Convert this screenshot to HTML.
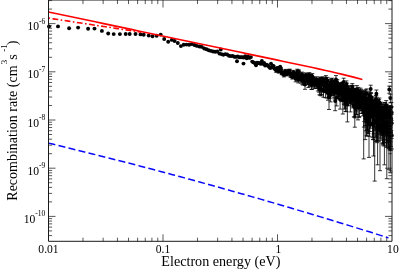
<!DOCTYPE html>
<html><head><meta charset="utf-8"><title>Recombination rate</title>
<style>html,body{margin:0;padding:0;background:#fff}body{width:399px;height:270px;overflow:hidden;font-family:"Liberation Serif",serif}</style></head>
<body>
<svg width="399" height="270" viewBox="0 0 399 270" style="display:block;will-change:transform;transform:translateZ(0)">
<rect width="399" height="270" fill="#fff"/>
<g stroke="#000" stroke-width="0.8" fill="none">
<path d="M276.2 69.1V72.3M274.2 69.1h4M274.2 72.3h4M278.7 69.6V73.1M276.7 69.6h4M276.7 73.1h4M279.4 66.9V69.9M277.4 66.9h4M277.4 69.9h4M281.0 67.7V71.0M279.0 67.7h4M279.0 71.0h4M281.7 71.0V74.7M279.7 71.0h4M279.7 74.7h4M282.4 70.9V74.6M280.4 70.9h4M280.4 74.6h4M283.2 71.4V75.1M281.2 71.4h4M281.2 75.1h4M283.9 72.9V76.9M281.9 72.9h4M281.9 76.9h4M284.6 72.0V75.8M282.6 72.0h4M282.6 75.8h4M285.3 69.4V72.8M283.3 69.4h4M283.3 72.8h4M285.9 71.2V74.9M283.9 71.2h4M283.9 74.9h4M286.6 71.4V75.2M284.6 71.4h4M284.6 75.2h4M287.3 71.9V75.9M285.3 71.9h4M285.3 75.9h4M287.9 70.8V74.6M285.9 70.8h4M285.9 74.6h4M288.6 69.4V72.9M286.6 69.4h4M286.6 72.9h4M289.2 70.0V73.7M287.2 70.0h4M287.2 73.7h4M289.8 69.2V72.8M287.8 69.2h4M287.8 72.8h4M290.4 72.7V77.0M288.4 72.7h4M288.4 77.0h4M291.1 72.9V77.3M289.1 72.9h4M289.1 77.3h4M291.7 72.9V77.4M289.7 72.9h4M289.7 77.4h4M292.3 74.3V79.0M290.3 74.3h4M290.3 79.0h4M292.8 73.9V78.6M290.8 73.9h4M290.8 78.6h4M293.4 70.4V74.4M291.4 70.4h4M291.4 74.4h4M294.0 72.9V77.4M292.0 72.9h4M292.0 77.4h4M294.6 72.1V76.5M292.6 72.1h4M292.6 76.5h4M295.1 72.5V77.1M293.1 72.5h4M293.1 77.1h4M295.7 76.3V81.8M293.7 76.3h4M293.7 81.8h4M296.2 72.9V77.5M294.2 72.9h4M294.2 77.5h4M296.8 72.0V76.5M294.8 72.0h4M294.8 76.5h4M297.3 69.2V73.1M295.3 69.2h4M295.3 73.1h4M297.8 75.5V81.0M295.8 75.5h4M295.8 81.0h4M298.3 76.9V82.9M296.3 76.9h4M296.3 82.9h4M298.9 69.9V74.0M296.9 69.9h4M296.9 74.0h4M299.4 74.5V79.9M297.4 74.5h4M297.4 79.9h4M299.9 74.9V80.5M297.9 74.9h4M297.9 80.5h4M300.4 73.1V78.2M298.4 73.1h4M298.4 78.2h4M300.9 77.0V83.2M298.9 77.0h4M298.9 83.2h4M301.4 75.1V80.7M299.4 75.1h4M299.4 80.7h4M301.9 72.1V76.9M299.9 72.1h4M299.9 76.9h4M302.4 78.0V84.7M300.4 78.0h4M300.4 84.7h4M302.8 73.1V78.3M300.8 73.1h4M300.8 78.3h4M303.3 78.3V85.1M301.3 78.3h4M301.3 85.1h4M303.8 77.3V83.7M301.8 77.3h4M301.8 83.7h4M304.3 75.3V81.1M302.3 75.3h4M302.3 81.1h4M304.7 74.5V80.0M302.7 74.5h4M302.7 80.0h4M305.2 78.1V85.0M303.2 78.1h4M303.2 85.0h4M305.7 72.9V78.1M303.7 72.9h4M303.7 78.1h4M306.1 76.2V82.4M304.1 76.2h4M304.1 82.4h4M306.6 74.6V80.2M304.6 74.6h4M304.6 80.2h4M307.0 75.1V81.0M305.0 75.1h4M305.0 81.0h4M307.5 77.4V84.0M305.5 77.4h4M305.5 84.0h4M307.9 73.5V78.9M305.9 73.5h4M305.9 78.9h4M308.4 79.8V87.5M306.4 79.8h4M306.4 87.5h4M308.8 75.6V81.7M306.8 75.6h4M306.8 81.7h4M309.3 72.6V77.8M307.3 72.6h4M307.3 77.8h4M309.7 78.9V86.3M307.7 78.9h4M307.7 86.3h4M310.1 74.3V80.0M308.1 74.3h4M308.1 80.0h4M310.6 78.5V85.7M308.6 78.5h4M308.6 85.7h4M311.0 74.5V80.3M309.0 74.5h4M309.0 80.3h4M311.4 80.9V89.3M309.4 80.9h4M309.4 89.3h4M311.9 81.1V89.5M309.9 81.1h4M309.9 89.5h4M312.3 73.6V79.1M310.3 73.6h4M310.3 79.1h4M312.7 76.7V83.2M310.7 76.7h4M310.7 83.2h4M313.1 77.5V84.3M311.1 77.5h4M311.1 84.3h4M313.5 77.1V83.7M311.5 77.1h4M311.5 83.7h4M313.9 79.3V86.9M311.9 79.3h4M311.9 86.9h4M314.3 79.4V87.1M312.3 79.4h4M312.3 87.1h4M314.7 80.4V88.5M312.7 80.4h4M312.7 88.5h4M315.1 77.9V84.9M313.1 77.9h4M313.1 84.9h4M315.6 78.0V85.0M313.6 78.0h4M313.6 85.0h4M315.9 78.5V85.7M313.9 78.5h4M313.9 85.7h4M316.3 80.3V88.4M314.3 80.3h4M314.3 88.4h4M316.7 76.8V83.4M314.7 76.8h4M314.7 83.4h4M317.1 78.6V85.8M315.1 78.6h4M315.1 85.8h4M317.5 78.8V86.2M315.5 78.8h4M315.5 86.2h4M317.9 82.1V91.0M315.9 82.1h4M315.9 91.0h4M318.3 78.8V86.1M316.3 78.8h4M316.3 86.1h4M318.7 80.4V88.5M316.7 80.4h4M316.7 88.5h4M319.1 82.9V92.2M317.1 82.9h4M317.1 92.2h4M319.4 84.5V94.8M317.4 84.5h4M317.4 94.8h4M319.8 77.1V83.7M317.8 77.1h4M317.8 83.7h4M320.2 84.8V95.3M318.2 84.8h4M318.2 95.3h4M320.6 78.0V85.0M318.6 78.0h4M318.6 85.0h4M320.9 77.4V84.1M318.9 77.4h4M318.9 84.1h4M321.3 85.3V95.9M319.3 85.3h4M319.3 95.9h4M321.7 84.4V94.5M319.7 84.4h4M319.7 94.5h4M322.0 78.0V84.9M320.0 78.0h4M320.0 84.9h4M322.4 77.5V84.2M320.4 77.5h4M320.4 84.2h4M322.8 76.8V83.2M320.8 76.8h4M320.8 83.2h4M323.1 79.3V86.6M321.1 79.3h4M321.1 86.6h4M323.5 86.2V97.3M321.5 86.2h4M321.5 97.3h4M323.8 80.7V88.6M321.8 80.7h4M321.8 88.6h4M324.2 81.4V89.7M322.2 81.4h4M322.2 89.7h4M324.5 79.0V86.2M322.5 79.0h4M322.5 86.2h4M324.9 82.5V91.2M322.9 82.5h4M322.9 91.2h4M325.2 81.6V89.8M323.2 81.6h4M323.2 89.8h4M325.6 86.6V97.8M323.6 86.6h4M323.6 97.8h4M325.9 75.6V81.5M323.9 75.6h4M323.9 81.5h4M326.3 81.4V89.4M324.3 81.4h4M324.3 89.4h4M326.6 79.8V87.2M324.6 79.8h4M324.6 87.2h4M327.0 81.0V88.9M325.0 81.0h4M325.0 88.9h4M327.3 86.9V98.0M325.3 86.9h4M325.3 98.0h4M327.6 77.4V83.8M325.6 77.4h4M325.6 83.8h4M328.0 88.2V100.2M326.0 88.2h4M326.0 100.2h4M328.3 81.2V89.0M326.3 81.2h4M326.3 89.0h4M328.6 84.6V94.1M326.6 84.6h4M326.6 94.1h4M329.0 86.5V97.2M327.0 86.5h4M327.0 97.2h4M329.3 81.6V89.5M327.3 81.6h4M327.3 89.5h4M329.6 85.3V95.2M327.6 85.3h4M327.6 95.2h4M329.9 87.2V98.2M327.9 87.2h4M327.9 98.2h4M330.3 82.0V90.2M328.3 82.0h4M328.3 90.2h4M330.6 89.3V101.9M328.6 89.3h4M328.6 101.9h4M330.9 79.6V86.6M328.9 79.6h4M328.9 86.6h4M331.2 78.7V85.4M329.2 78.7h4M329.2 85.4h4M331.5 84.0V93.1M329.5 84.0h4M329.5 93.1h4M331.9 85.8V95.9M329.9 85.8h4M329.9 95.9h4M332.2 78.2V84.6M330.2 78.2h4M330.2 84.6h4M332.5 84.8V94.1M330.5 84.8h4M330.5 94.1h4M332.8 80.9V88.4M330.8 80.9h4M330.8 88.4h4M333.1 84.6V93.9M331.1 84.6h4M331.1 93.9h4M333.4 85.6V95.5M331.4 85.6h4M331.4 95.5h4M333.7 83.4V92.0M331.7 83.4h4M331.7 92.0h4M334.0 87.1V97.8M332.0 87.1h4M332.0 97.8h4M334.3 81.6V89.3M332.3 81.6h4M332.3 89.3h4M334.7 87.7V98.9M332.7 87.7h4M332.7 98.9h4M335.0 80.8V88.2M333.0 80.8h4M333.0 88.2h4M335.3 79.5V86.3M333.3 79.5h4M333.3 86.3h4M335.6 80.3V87.3M333.6 80.3h4M333.6 87.3h4M335.9 82.8V91.0M333.9 82.8h4M333.9 91.0h4M336.1 83.9V92.6M334.1 83.9h4M334.1 92.6h4M336.4 85.2V94.7M334.4 85.2h4M334.4 94.7h4M336.7 91.7V105.9M334.7 91.7h4M334.7 105.9h4M337.0 81.0V88.4M335.0 81.0h4M335.0 88.4h4M337.3 79.6V86.4M335.3 79.6h4M335.3 86.4h4M337.6 86.4V96.4M335.6 86.4h4M335.6 96.4h4M337.9 87.6V98.5M335.9 87.6h4M335.9 98.5h4M338.2 87.5V98.2M336.2 87.5h4M336.2 98.2h4M338.5 85.4V94.9M336.5 85.4h4M336.5 94.9h4M338.8 85.7V95.2M336.8 85.7h4M336.8 95.2h4M339.1 88.0V98.9M337.1 88.0h4M337.1 98.9h4M339.3 86.6V96.6M337.3 86.6h4M337.3 96.6h4M339.6 84.5V93.4M337.6 84.5h4M337.6 93.4h4M339.9 82.7V90.7M337.9 82.7h4M337.9 90.7h4M340.2 86.8V96.9M338.2 86.8h4M338.2 96.9h4M340.5 83.5V91.9M338.5 83.5h4M338.5 91.9h4M340.7 83.5V91.7M338.7 83.5h4M338.7 91.7h4M341.0 84.0V92.5M339.0 84.0h4M339.0 92.5h4M341.3 87.6V98.1M339.3 87.6h4M339.3 98.1h4M341.6 82.4V90.1M339.6 82.4h4M339.6 90.1h4M341.8 89.7V101.7M339.8 89.7h4M339.8 101.7h4M342.1 88.5V99.5M340.1 88.5h4M340.1 99.5h4M342.4 83.1V91.0M340.4 83.1h4M340.4 91.0h4M342.7 87.9V98.4M340.7 87.9h4M340.7 98.4h4M342.9 86.9V96.7M340.9 86.9h4M340.9 96.7h4M343.2 81.8V89.0M341.2 81.8h4M341.2 89.0h4M343.5 87.0V97.0M341.5 87.0h4M341.5 97.0h4M343.7 91.2V104.0M341.7 91.2h4M341.7 104.0h4M344.0 88.1V98.7M342.0 88.1h4M342.0 98.7h4M344.3 91.5V104.6M342.3 91.5h4M342.3 104.6h4M344.5 93.9V109.1M342.5 93.9h4M342.5 109.1h4M344.8 86.1V95.3M342.8 86.1h4M342.8 95.3h4M345.1 92.2V105.7M343.1 92.2h4M343.1 105.7h4M345.3 93.4V108.1M343.3 93.4h4M343.3 108.1h4M345.6 95.0V111.4M343.6 95.0h4M343.6 111.4h4M345.8 85.4V94.1M343.8 85.4h4M343.8 94.1h4M346.1 95.2V111.7M344.1 95.2h4M344.1 111.7h4M346.4 80.9V87.6M344.4 80.9h4M344.4 87.6h4M346.6 89.5V100.6M344.6 89.5h4M344.6 100.6h4M346.9 83.2V90.8M344.9 83.2h4M344.9 90.8h4M347.1 86.0V95.0M345.1 86.0h4M345.1 95.0h4M347.4 88.0V98.1M345.4 88.0h4M345.4 98.1h4M347.6 87.5V97.3M345.6 87.5h4M345.6 97.3h4M347.9 90.8V102.8M345.9 90.8h4M345.9 102.8h4M348.1 92.5V105.8M346.1 92.5h4M346.1 105.8h4M348.4 86.8V96.0M346.4 86.8h4M346.4 96.0h4M348.6 88.6V98.8M346.6 88.6h4M346.6 98.8h4M348.9 85.6V94.2M346.9 85.6h4M346.9 94.2h4M349.1 89.4V100.1M347.1 89.4h4M347.1 100.1h4M349.4 90.1V101.3M347.4 90.1h4M347.4 101.3h4M349.6 88.6V98.8M347.6 88.6h4M347.6 98.8h4M349.9 89.9V100.8M347.9 89.9h4M347.9 100.8h4M350.1 89.7V100.4M348.1 89.7h4M348.1 100.4h4M350.4 95.8V111.9M348.4 95.8h4M348.4 111.9h4M350.6 89.2V99.6M348.6 89.2h4M348.6 99.6h4M350.9 90.6V101.8M348.9 90.6h4M348.9 101.8h4M351.1 90.2V101.2M349.1 90.2h4M349.1 101.2h4M351.3 87.0V95.9M349.3 87.0h4M349.3 95.9h4M351.6 86.2V94.8M349.6 86.2h4M349.6 94.8h4M351.8 92.5V105.0M349.8 92.5h4M349.8 105.0h4M352.1 85.4V93.4M350.1 85.4h4M350.1 93.4h4M352.3 83.6V90.9M350.3 83.6h4M350.3 90.9h4M352.5 93.2V106.2M350.5 93.2h4M350.5 106.2h4M352.8 94.2V107.9M350.8 94.2h4M350.8 107.9h4M353.0 88.6V98.2M351.0 88.6h4M351.0 98.2h4M353.2 92.4V104.6M351.2 92.4h4M351.2 104.6h4M353.5 85.8V93.9M351.5 85.8h4M351.5 93.9h4M353.7 88.3V97.6M351.7 88.3h4M351.7 97.6h4M353.9 98.5V116.9M351.9 98.5h4M351.9 116.9h4M354.2 92.3V104.2M352.2 92.3h4M352.2 104.2h4M354.4 98.7V117.2M352.4 98.7h4M352.4 117.2h4M354.6 91.5V102.7M352.6 91.5h4M352.6 102.7h4M354.9 98.6V116.7M352.9 98.6h4M352.9 116.7h4M355.1 89.8V99.8M353.1 89.8h4M353.1 99.8h4M355.3 99.1V117.9M353.3 99.1h4M353.3 117.9h4M355.5 89.8V99.6M353.5 89.8h4M353.5 99.6h4M355.8 91.6V102.7M353.8 91.6h4M353.8 102.7h4M356.0 96.1V110.9M354.0 96.1h4M354.0 110.9h4M356.2 89.0V98.4M354.2 89.0h4M354.2 98.4h4M356.5 97.9V114.5M354.5 97.9h4M354.5 114.5h4M356.7 98.1V114.9M354.7 98.1h4M354.7 114.9h4M356.9 85.6V93.2M354.9 85.6h4M354.9 93.2h4M357.1 92.5V103.9M355.1 92.5h4M355.1 103.9h4M357.3 88.5V97.4M355.3 88.5h4M355.3 97.4h4M357.6 90.0V99.6M355.6 90.0h4M355.6 99.6h4M357.8 89.9V99.5M355.8 89.9h4M355.8 99.5h4M358.0 100.4V119.9M356.0 100.4h4M356.0 119.9h4M358.2 92.3V103.5M356.2 92.3h4M356.2 103.5h4M358.4 87.4V95.7M356.4 87.4h4M356.4 95.7h4M358.7 92.3V103.5M356.7 92.3h4M356.7 103.5h4M358.9 95.1V108.5M356.9 95.1h4M356.9 108.5h4M359.1 99.3V117.6M357.1 99.3h4M357.1 117.6h4M359.3 98.9V116.5M357.3 98.9h4M357.3 116.5h4M359.5 91.8V102.6M357.5 91.8h4M357.5 102.6h4M359.7 91.2V101.8M357.7 91.2h4M357.7 101.8h4M360.0 94.8V108.1M358.0 94.8h4M358.0 108.1h4M360.2 94.5V107.6M358.2 94.5h4M358.2 107.6h4M360.4 95.2V108.9M358.4 95.2h4M358.4 108.9h4M360.6 88.2V97.1M358.6 88.2h4M358.6 97.1h4M360.8 96.1V110.8M358.8 96.1h4M358.8 110.8h4M361.0 89.6V99.3M359.0 89.6h4M359.0 99.3h4M361.2 97.3V113.5M359.2 97.3h4M359.2 113.5h4M361.4 94.3V107.5M359.4 94.3h4M359.4 107.5h4M361.7 95.8V110.3M359.7 95.8h4M359.7 110.3h4M361.9 93.2V105.5M359.9 93.2h4M359.9 105.5h4M362.1 95.7V110.2M360.1 95.7h4M360.1 110.2h4M362.3 93.4V106.0M360.3 93.4h4M360.3 106.0h4M362.5 90.9V101.6M360.5 90.9h4M360.5 101.6h4M362.7 95.7V110.4M360.7 95.7h4M360.7 110.4h4M362.9 98.2V115.9M360.9 98.2h4M360.9 115.9h4M363.1 97.2V113.5M361.1 97.2h4M361.1 113.5h4M363.3 93.4V106.0M361.3 93.4h4M361.3 106.0h4M363.5 96.8V112.7M361.5 96.8h4M361.5 112.7h4M363.7 90.7V101.3M361.7 90.7h4M361.7 101.3h4M363.9 102.2V127.1M361.9 102.2h4M361.9 127.1h4M364.1 92.0V103.5M362.1 92.0h4M362.1 103.5h4M364.3 100.4V121.6M362.3 100.4h4M362.3 121.6h4M364.5 91.3V102.3M362.5 91.3h4M362.5 102.3h4M364.7 96.7V112.5M362.7 96.7h4M362.7 112.5h4M364.9 97.9V115.2M362.9 97.9h4M362.9 115.2h4M365.1 94.5V108.1M363.1 94.5h4M363.1 108.1h4M365.3 101.9V125.6M363.3 101.9h4M363.3 125.6h4M365.5 89.7V99.6M363.5 89.7h4M363.5 99.6h4M365.7 97.6V114.3M363.7 97.6h4M363.7 114.3h4M365.9 107.0V130.9M363.9 107.0h4M363.9 130.9h4M366.1 94.6V108.1M364.1 94.6h4M364.1 108.1h4M366.3 100.9V122.4M364.3 100.9h4M364.3 122.4h4M366.5 107.4V135.7M364.5 107.4h4M364.5 135.7h4M366.7 88.9V98.3M364.7 88.9h4M364.7 98.3h4M366.9 98.2V115.5M364.9 98.2h4M364.9 115.5h4M367.1 109.7V136.2M365.1 109.7h4M365.1 136.2h4M367.3 103.5V130.2M365.3 103.5h4M365.3 130.2h4M367.5 107.5V130.0M365.5 107.5h4M365.5 130.0h4M367.7 104.3V132.8M365.7 104.3h4M365.7 132.8h4M367.9 97.6V113.8M365.9 97.6h4M365.9 113.8h4M368.1 93.0V104.9M366.1 93.0h4M366.1 104.9h4M368.3 108.0V133.5M366.3 108.0h4M366.3 133.5h4M368.4 100.3V119.6M366.4 100.3h4M366.4 119.6h4M368.6 102.0V123.8M366.6 102.0h4M366.6 123.8h4M368.8 102.8V125.8M366.8 102.8h4M366.8 125.8h4M369.0 102.7V125.1M367.0 102.7h4M367.0 125.1h4M369.2 91.1V100.9M367.2 91.1h4M367.2 100.9h4M369.4 97.4V111.9M367.4 97.4h4M367.4 111.9h4M369.6 107.0V136.3M367.6 107.0h4M367.6 136.3h4M369.8 100.5V118.2M367.8 100.5h4M367.8 118.2h4M369.9 105.3V131.5M367.9 105.3h4M367.9 131.5h4M370.1 99.5V115.6M368.1 99.5h4M368.1 115.6h4M370.3 103.2V124.5M368.3 103.2h4M368.3 124.5h4M370.5 104.6V128.2M368.5 104.6h4M368.5 128.2h4M370.7 99.1V114.3M368.7 99.1h4M368.7 114.3h4M370.9 92.8V102.8M368.9 92.8h4M368.9 102.8h4M371.0 100.1V116.3M369.0 100.1h4M369.0 116.3h4M371.2 92.9V102.9M369.2 92.9h4M369.2 102.9h4M371.4 100.3V116.4M369.4 100.3h4M369.4 116.4h4M371.6 100.0V115.7M369.6 100.0h4M369.6 115.7h4M371.8 104.2V125.6M369.8 104.2h4M369.8 125.6h4M371.9 100.9V117.4M369.9 100.9h4M369.9 117.4h4M372.1 103.4V123.2M370.1 103.4h4M370.1 123.2h4M372.3 96.8V109.1M370.3 96.8h4M370.3 109.1h4M372.5 112.9V137.3M370.5 112.9h4M370.5 137.3h4M372.7 97.9V110.8M370.7 97.9h4M370.7 110.8h4M372.8 103.4V122.5M370.8 103.4h4M370.8 122.5h4M373.0 111.8V139.4M371.0 111.8h4M371.0 139.4h4M373.2 114.4V139.7M371.2 114.4h4M371.2 139.7h4M373.4 104.0V123.6M371.4 104.0h4M371.4 123.6h4M373.5 111.2V133.9M371.5 111.2h4M371.5 133.9h4M373.7 99.3V112.9M371.7 99.3h4M371.7 112.9h4M373.9 100.4V115.0M371.9 100.4h4M371.9 115.0h4M374.1 100.4V115.0M372.1 100.4h4M372.1 115.0h4M374.2 106.8V130.3M372.2 106.8h4M372.2 130.3h4M374.4 104.4V123.6M372.4 104.4h4M372.4 123.6h4M374.6 100.8V115.4M372.6 100.8h4M372.6 115.4h4M374.8 105.6V126.2M372.8 105.6h4M372.8 126.2h4M374.9 101.3V116.2M372.9 101.3h4M372.9 116.2h4M375.1 100.0V113.5M373.1 100.0h4M373.1 113.5h4M375.3 98.0V109.8M373.3 98.0h4M373.3 109.8h4M375.4 100.7V114.8M373.4 100.7h4M373.4 114.8h4M375.6 104.0V121.6M373.6 104.0h4M373.6 121.6h4M375.8 95.6V105.6M373.8 95.6h4M373.8 105.6h4M375.9 111.2V137.2M373.9 111.2h4M373.9 137.2h4M376.1 111.5V141.5M374.1 111.5h4M374.1 141.5h4M376.3 110.6V140.8M374.3 110.6h4M374.3 140.8h4M376.4 96.0V106.0M374.4 96.0h4M374.4 106.0h4M376.6 106.7V127.5M374.6 106.7h4M374.6 127.5h4M376.8 97.9V108.9M374.8 97.9h4M374.8 108.9h4M376.9 116.7V136.0M374.9 116.7h4M374.9 136.0h4M377.1 111.4V142.7M375.1 111.4h4M375.1 142.7h4M377.3 111.1V141.0M375.3 111.1h4M375.3 141.0h4M377.4 105.9V124.7M375.4 105.9h4M375.4 124.7h4M377.6 99.4V111.2M375.6 99.4h4M375.6 111.2h4M377.8 109.1V133.2M375.8 109.1h4M375.8 133.2h4M377.9 101.1V114.1M375.9 101.1h4M375.9 114.1h4M378.1 106.1V124.6M376.1 106.1h4M376.1 124.6h4M378.3 107.5V128.0M376.3 107.5h4M376.3 128.0h4M378.4 100.1V112.0M376.4 100.1h4M376.4 112.0h4M378.6 117.2V141.2M376.6 117.2h4M376.6 141.2h4M378.7 107.1V126.3M376.7 107.1h4M376.7 126.3h4M378.9 104.5V120.3M376.9 104.5h4M376.9 120.3h4M379.1 99.7V111.0M377.1 99.7h4M377.1 111.0h4M379.2 103.9V118.9M377.2 103.9h4M377.2 118.9h4M379.4 98.0V108.0M377.4 98.0h4M377.4 108.0h4M379.5 107.5V126.7M377.5 107.5h4M377.5 126.7h4M379.7 104.4V119.5M377.7 104.4h4M377.7 119.5h4M379.9 102.6V115.9M377.9 102.6h4M377.9 115.9h4M380.0 110.4V134.3M378.0 110.4h4M378.0 134.3h4M380.2 120.5V138.1M378.2 120.5h4M378.2 138.1h4M380.3 107.3V125.6M378.3 107.3h4M378.3 125.6h4M380.5 106.8V124.5M378.5 106.8h4M378.5 124.5h4M380.6 109.5V131.1M378.6 109.5h4M378.6 131.1h4M380.8 107.5V125.8M378.8 107.5h4M378.8 125.8h4M380.9 107.2V125.2M378.9 107.2h4M378.9 125.2h4M381.1 118.9V140.2M379.1 118.9h4M379.1 140.2h4M381.3 102.2V114.8M379.3 102.2h4M379.3 114.8h4M381.4 104.6V119.3M379.4 104.6h4M379.4 119.3h4M381.6 111.2V135.7M379.6 111.2h4M379.6 135.7h4M381.7 109.0V129.2M379.7 109.0h4M379.7 129.2h4M381.9 110.6V133.5M379.9 110.6h4M379.9 133.5h4M382.0 103.6V117.2M380.0 103.6h4M380.0 117.2h4M382.2 109.7V131.0M380.2 109.7h4M380.2 131.0h4M382.3 107.2V124.5M380.3 107.2h4M380.3 124.5h4M382.5 108.2V126.7M380.5 108.2h4M380.5 126.7h4M382.6 119.3V143.7M380.6 119.3h4M380.6 143.7h4M382.8 113.4V142.8M380.8 113.4h4M380.8 142.8h4M382.9 106.9V123.6M380.9 106.9h4M380.9 123.6h4M383.1 116.0V145.1M381.1 116.0h4M381.1 145.1h4M383.2 116.9V144.1M381.2 116.9h4M381.2 144.1h4M383.4 111.3V134.8M381.4 111.3h4M381.4 134.8h4M383.5 104.5V118.4M381.5 104.5h4M381.5 118.4h4M383.7 108.6V127.3M381.7 108.6h4M381.7 127.3h4M383.8 115.6V146.0M381.8 115.6h4M381.8 146.0h4M384.0 105.7V120.6M382.0 105.7h4M382.0 120.6h4M384.1 109.2V128.5M382.1 109.2h4M382.1 128.5h4M384.3 108.1V125.7M382.3 108.1h4M382.3 125.7h4M384.4 113.8V142.6M382.4 113.8h4M382.4 142.6h4M384.6 106.4V121.9M382.6 106.4h4M382.6 121.9h4M384.7 110.8V132.6M382.7 110.8h4M382.7 132.6h4M384.9 102.5V114.4M382.9 102.5h4M382.9 114.4h4M385.0 113.2V139.8M383.0 113.2h4M383.0 139.8h4M385.2 102.8V114.9M383.2 102.8h4M383.2 114.9h4M385.3 106.5V121.9M383.3 106.5h4M383.3 121.9h4M385.4 109.8V129.3M383.4 109.8h4M383.4 129.3h4M385.6 105.5V119.8M383.6 105.5h4M383.6 119.8h4M385.7 112.2V136.1M383.7 112.2h4M383.7 136.1h4M385.9 109.4V128.1M383.9 109.4h4M383.9 128.1h4M386.0 113.7V141.0M384.0 113.7h4M384.0 141.0h4M386.2 100.6V110.9M384.2 100.6h4M384.2 110.9h4M386.3 110.0V129.5M384.3 110.0h4M384.3 129.5h4M386.4 115.4V147.2M384.4 115.4h4M384.4 147.2h4M386.6 114.4V143.0M384.6 114.4h4M384.6 143.0h4M386.7 121.2V145.2M384.7 121.2h4M384.7 145.2h4M386.9 104.3V117.1M384.9 104.3h4M384.9 117.1h4M387.0 110.9V131.6M385.0 110.9h4M385.0 131.6h4M387.2 116.7V147.0M385.2 116.7h4M385.2 147.0h4M387.3 122.4V142.3M385.3 122.4h4M385.3 142.3h4M387.4 110.3V129.8M385.4 110.3h4M385.4 129.8h4M387.6 107.1V122.3M385.6 107.1h4M385.6 122.3h4M387.7 111.6V133.1M385.7 111.6h4M385.7 133.1h4M387.9 106.3V120.6M385.9 106.3h4M385.9 120.6h4M388.0 107.8V123.6M386.0 107.8h4M386.0 123.6h4M388.1 110.8V130.8M386.1 110.8h4M386.1 130.8h4M388.3 106.1V120.2M386.3 106.1h4M386.3 120.2h4M388.4 111.7V132.9M386.4 111.7h4M386.4 132.9h4M388.5 122.4V147.8M386.5 122.4h4M386.5 147.8h4M388.7 117.7V148.6M386.7 117.7h4M386.7 148.6h4M388.8 114.2V140.3M386.8 114.2h4M386.8 140.3h4M389.0 110.1V128.6M387.0 110.1h4M387.0 128.6h4M389.1 108.2V124.0M387.1 108.2h4M387.1 124.0h4M389.2 111.1V130.8M387.2 111.1h4M387.2 130.8h4M389.4 110.0V128.1M387.4 110.0h4M387.4 128.1h4M389.5 116.9V150.0M387.5 116.9h4M387.5 150.0h4M389.6 112.2V133.6M387.6 112.2h4M387.6 133.6h4M389.8 109.5V126.7M387.8 109.5h4M387.8 126.7h4M389.9 112.3V133.7M387.9 112.3h4M387.9 133.7h4M390.0 106.1V119.5M388.0 106.1h4M388.0 119.5h4M390.2 123.0V149.3M388.2 123.0h4M388.2 149.3h4M390.3 105.8V118.9M388.3 105.8h4M388.3 118.9h4M390.4 110.0V127.5M388.4 110.0h4M388.4 127.5h4M390.6 107.7V122.7M388.6 107.7h4M388.6 122.7h4M390.7 115.0V141.8M388.7 115.0h4M388.7 141.8h4M390.8 124.9V150.6M388.8 124.9h4M388.8 150.6h4M391.0 119.9V146.4M389.0 119.9h4M389.0 146.4h4M391.1 113.6V136.7M389.1 113.6h4M389.1 136.7h4M391.2 111.3V130.5M389.2 111.3h4M389.2 130.5h4M391.4 102.5V112.9M389.4 102.5h4M389.4 112.9h4M391.5 106.8V120.4M389.5 106.8h4M389.5 120.4h4M391.6 114.3V138.6M389.6 114.3h4M389.6 138.6h4M391.8 123.3V149.0M389.8 123.3h4M389.8 149.0h4M305.0 80.8V89.3M303.0 80.8h4M303.0 89.3h4M336.0 75.6V84.1M334.0 75.6h4M334.0 84.1h4M343.7 78.2V86.7M341.7 78.2h4M341.7 86.7h4M370.7 85.2V93.7M368.7 85.2h4M368.7 93.7h4M376.4 90.0V98.5M374.4 90.0h4M374.4 98.5h4M389.3 86.1V93.3M387.3 86.1h4M387.3 93.3h4M390.4 94.3V102.8M388.4 94.3h4M388.4 102.8h4M329.0 87.3V109.5M327.0 87.3h4M327.0 109.5h4M335.2 91.0V110.7M333.2 91.0h4M333.2 110.7h4M340.1 89.5V109.1M338.1 89.5h4M338.1 109.1h4M342.8 90.2V114.0M340.8 90.2h4M340.8 114.0h4M347.4 94.6V121.9M345.4 94.6h4M345.4 121.9h4M354.8 97.5V127.2M352.8 97.5h4M352.8 127.2h4M363.7 102.7V158.9M361.7 102.7h4M361.7 158.9h4M369.0 110.7V157.4M367.0 110.7h4M367.0 157.4h4M365.2 105.8V139.6M363.2 105.8h4M363.2 139.6h4M374.7 111.2V181.1M372.7 111.2h4M372.7 181.1h4M373.5 112.7V156.0M371.5 112.7h4M371.5 156.0h4M380.0 117.9V170.7M378.0 117.9h4M378.0 170.7h4M377.6 114.7V164.8M375.6 114.7h4M375.6 164.8h4M384.4 117.5V164.8M382.4 117.5h4M382.4 164.8h4M386.8 122.8V178.7M384.8 122.8h4M384.8 178.7h4M388.9 121.7V169.3M386.9 121.7h4M386.9 169.3h4M390.4 120.8V172.2M388.4 120.8h4M388.4 172.2h4"/>
</g>
<g fill="#000">
<circle cx="49.0" cy="26.4" r="1.95"/>
<circle cx="58.0" cy="26.4" r="1.95"/>
<circle cx="69.1" cy="28.2" r="1.95"/>
<circle cx="78.1" cy="27.6" r="1.95"/>
<circle cx="88.1" cy="28.8" r="1.95"/>
<circle cx="94.5" cy="28.6" r="1.95"/>
<circle cx="101.9" cy="30.9" r="1.95"/>
<circle cx="108.2" cy="33.5" r="1.95"/>
<circle cx="113.7" cy="34.1" r="1.95"/>
<circle cx="119.9" cy="34.1" r="1.95"/>
<circle cx="125.7" cy="34.0" r="1.95"/>
<circle cx="129.7" cy="34.0" r="1.95"/>
<circle cx="135.5" cy="34.0" r="1.95"/>
<circle cx="140.5" cy="34.4" r="1.95"/>
<circle cx="143.7" cy="34.8" r="1.95"/>
<circle cx="148.7" cy="35.6" r="1.95"/>
<circle cx="152.5" cy="36.2" r="1.95"/>
<circle cx="156.7" cy="35.8" r="1.95"/>
<circle cx="160.7" cy="34.6" r="1.95"/>
<circle cx="164.2" cy="39.0" r="1.95"/>
<circle cx="168.2" cy="41.7" r="1.95"/>
<circle cx="171.8" cy="39.9" r="1.95"/>
<circle cx="174.6" cy="41.0" r="1.95"/>
<circle cx="177.8" cy="43.0" r="1.95"/>
<circle cx="180.9" cy="46.1" r="1.95"/>
<circle cx="183.7" cy="44.8" r="1.95"/>
<circle cx="186.5" cy="44.6" r="1.95"/>
<circle cx="189.2" cy="44.8" r="1.95"/>
<circle cx="191.8" cy="44.1" r="1.95"/>
<circle cx="194.4" cy="45.0" r="1.95"/>
<circle cx="196.9" cy="45.9" r="1.95"/>
<circle cx="199.4" cy="46.5" r="1.95"/>
<circle cx="201.8" cy="46.9" r="1.95"/>
<circle cx="204.2" cy="48.5" r="1.95"/>
<circle cx="206.5" cy="49.3" r="1.95"/>
<circle cx="208.7" cy="50.2" r="1.95"/>
<circle cx="211.0" cy="50.9" r="1.95"/>
<circle cx="213.1" cy="51.5" r="1.95"/>
<circle cx="215.3" cy="51.7" r="1.95"/>
<circle cx="217.3" cy="51.5" r="1.95"/>
<circle cx="219.4" cy="53.6" r="1.95"/>
<circle cx="221.4" cy="54.1" r="1.95"/>
<circle cx="223.3" cy="54.7" r="1.95"/>
<circle cx="225.2" cy="54.1" r="1.95"/>
<circle cx="227.1" cy="54.5" r="1.95"/>
<circle cx="229.0" cy="55.7" r="1.95"/>
<circle cx="230.8" cy="56.1" r="1.95"/>
<circle cx="232.6" cy="55.9" r="1.95"/>
<circle cx="234.3" cy="56.8" r="1.95"/>
<circle cx="236.0" cy="56.9" r="1.95"/>
<circle cx="237.6" cy="56.4" r="1.95"/>
<circle cx="239.3" cy="57.3" r="1.95"/>
<circle cx="240.8" cy="57.3" r="1.95"/>
<circle cx="242.4" cy="57.2" r="1.95"/>
<circle cx="243.8" cy="57.5" r="1.95"/>
<circle cx="245.3" cy="56.3" r="1.95"/>
<circle cx="246.7" cy="58.2" r="1.95"/>
<circle cx="248.1" cy="56.6" r="1.95"/>
<circle cx="249.5" cy="57.9" r="1.95"/>
<circle cx="250.9" cy="57.1" r="1.95"/>
<circle cx="252.2" cy="61.6" r="1.95"/>
<circle cx="253.5" cy="62.4" r="1.95"/>
<circle cx="254.7" cy="63.0" r="1.95"/>
<circle cx="256.0" cy="65.2" r="1.95"/>
<circle cx="257.2" cy="62.8" r="1.95"/>
<circle cx="258.4" cy="63.0" r="1.95"/>
<circle cx="259.6" cy="63.2" r="1.95"/>
<circle cx="260.7" cy="63.7" r="1.95"/>
<circle cx="261.9" cy="61.0" r="1.95"/>
<circle cx="263.0" cy="63.9" r="1.95"/>
<circle cx="264.1" cy="63.0" r="1.95"/>
<circle cx="265.1" cy="65.5" r="1.95"/>
<circle cx="266.2" cy="64.7" r="1.95"/>
<circle cx="267.2" cy="64.9" r="1.95"/>
<circle cx="268.2" cy="65.9" r="1.95"/>
<circle cx="269.1" cy="66.7" r="1.95"/>
<circle cx="270.1" cy="68.0" r="1.95"/>
<circle cx="271.0" cy="63.6" r="1.95"/>
<circle cx="271.9" cy="67.6" r="1.95"/>
<circle cx="272.8" cy="65.6" r="1.95"/>
<circle cx="273.7" cy="66.1" r="1.95"/>
<circle cx="274.6" cy="68.8" r="1.95"/>
<circle cx="275.4" cy="69.2" r="1.95"/>
<circle cx="276.2" cy="70.6" r="1.95"/>
<circle cx="277.1" cy="68.0" r="1.95"/>
<circle cx="277.9" cy="68.3" r="1.95"/>
<circle cx="278.7" cy="71.3" r="1.95"/>
<circle cx="279.4" cy="68.3" r="1.95"/>
<circle cx="280.2" cy="66.8" r="1.95"/>
<circle cx="281.0" cy="69.3" r="1.95"/>
<circle cx="281.7" cy="72.8" r="1.95"/>
<circle cx="282.4" cy="72.7" r="1.95"/>
<circle cx="283.2" cy="73.2" r="1.95"/>
<circle cx="283.9" cy="74.8" r="1.95"/>
<circle cx="284.6" cy="73.8" r="1.95"/>
<circle cx="285.3" cy="71.1" r="1.95"/>
<circle cx="285.9" cy="73.0" r="1.95"/>
<circle cx="286.6" cy="73.2" r="1.95"/>
<circle cx="287.3" cy="73.8" r="1.95"/>
<circle cx="287.9" cy="72.6" r="1.95"/>
<circle cx="288.6" cy="71.1" r="1.95"/>
<circle cx="289.2" cy="71.8" r="1.95"/>
<circle cx="289.8" cy="70.9" r="1.95"/>
<circle cx="290.4" cy="74.8" r="1.95"/>
<circle cx="291.1" cy="75.0" r="1.95"/>
<circle cx="291.7" cy="75.0" r="1.95"/>
<circle cx="292.3" cy="76.5" r="1.95"/>
<circle cx="292.8" cy="76.2" r="1.95"/>
<circle cx="293.4" cy="72.3" r="1.95"/>
<circle cx="294.0" cy="75.0" r="1.95"/>
<circle cx="294.6" cy="74.2" r="1.95"/>
<circle cx="295.1" cy="74.7" r="1.95"/>
<circle cx="295.7" cy="78.9" r="1.95"/>
<circle cx="296.2" cy="75.1" r="1.95"/>
<circle cx="296.8" cy="74.1" r="1.95"/>
<circle cx="297.3" cy="71.1" r="1.95"/>
<circle cx="297.8" cy="78.0" r="1.95"/>
<circle cx="298.3" cy="79.7" r="1.95"/>
<circle cx="298.9" cy="71.8" r="1.95"/>
<circle cx="299.4" cy="77.0" r="1.95"/>
<circle cx="299.9" cy="77.5" r="1.95"/>
<circle cx="300.4" cy="75.5" r="1.95"/>
<circle cx="300.9" cy="79.9" r="1.95"/>
<circle cx="301.4" cy="77.7" r="1.95"/>
<circle cx="301.9" cy="74.4" r="1.95"/>
<circle cx="302.4" cy="81.1" r="1.95"/>
<circle cx="302.8" cy="75.6" r="1.95"/>
<circle cx="303.3" cy="81.4" r="1.95"/>
<circle cx="303.8" cy="80.3" r="1.95"/>
<circle cx="304.3" cy="78.0" r="1.95"/>
<circle cx="304.7" cy="77.1" r="1.95"/>
<circle cx="305.2" cy="81.3" r="1.95"/>
<circle cx="305.7" cy="75.3" r="1.95"/>
<circle cx="306.1" cy="79.1" r="1.95"/>
<circle cx="306.6" cy="77.2" r="1.95"/>
<circle cx="307.0" cy="77.8" r="1.95"/>
<circle cx="307.5" cy="80.4" r="1.95"/>
<circle cx="307.9" cy="76.0" r="1.95"/>
<circle cx="308.4" cy="83.3" r="1.95"/>
<circle cx="308.8" cy="78.4" r="1.95"/>
<circle cx="309.3" cy="75.0" r="1.95"/>
<circle cx="309.7" cy="82.3" r="1.95"/>
<circle cx="310.1" cy="77.0" r="1.95"/>
<circle cx="310.6" cy="81.8" r="1.95"/>
<circle cx="311.0" cy="77.2" r="1.95"/>
<circle cx="311.4" cy="84.7" r="1.95"/>
<circle cx="311.9" cy="84.9" r="1.95"/>
<circle cx="312.3" cy="76.2" r="1.95"/>
<circle cx="312.7" cy="79.7" r="1.95"/>
<circle cx="313.1" cy="80.6" r="1.95"/>
<circle cx="313.5" cy="80.1" r="1.95"/>
<circle cx="313.9" cy="82.8" r="1.95"/>
<circle cx="314.3" cy="82.9" r="1.95"/>
<circle cx="314.7" cy="84.1" r="1.95"/>
<circle cx="315.1" cy="81.1" r="1.95"/>
<circle cx="315.6" cy="81.2" r="1.95"/>
<circle cx="315.9" cy="81.8" r="1.95"/>
<circle cx="316.3" cy="84.0" r="1.95"/>
<circle cx="316.7" cy="79.9" r="1.95"/>
<circle cx="317.1" cy="81.9" r="1.95"/>
<circle cx="317.5" cy="82.2" r="1.95"/>
<circle cx="317.9" cy="86.1" r="1.95"/>
<circle cx="318.3" cy="82.1" r="1.95"/>
<circle cx="318.7" cy="84.1" r="1.95"/>
<circle cx="319.1" cy="87.0" r="1.95"/>
<circle cx="319.4" cy="89.0" r="1.95"/>
<circle cx="319.8" cy="80.1" r="1.95"/>
<circle cx="320.2" cy="89.4" r="1.95"/>
<circle cx="320.6" cy="81.3" r="1.95"/>
<circle cx="320.9" cy="80.4" r="1.95"/>
<circle cx="321.3" cy="89.9" r="1.95"/>
<circle cx="321.7" cy="88.9" r="1.95"/>
<circle cx="322.0" cy="81.2" r="1.95"/>
<circle cx="322.4" cy="80.6" r="1.95"/>
<circle cx="322.8" cy="79.7" r="1.95"/>
<circle cx="323.1" cy="82.6" r="1.95"/>
<circle cx="323.5" cy="91.1" r="1.95"/>
<circle cx="323.8" cy="84.3" r="1.95"/>
<circle cx="324.2" cy="85.1" r="1.95"/>
<circle cx="324.5" cy="82.3" r="1.95"/>
<circle cx="324.9" cy="86.4" r="1.95"/>
<circle cx="325.2" cy="85.3" r="1.95"/>
<circle cx="325.6" cy="91.5" r="1.95"/>
<circle cx="325.9" cy="78.4" r="1.95"/>
<circle cx="326.3" cy="85.0" r="1.95"/>
<circle cx="326.6" cy="83.2" r="1.95"/>
<circle cx="327.0" cy="84.6" r="1.95"/>
<circle cx="327.3" cy="91.7" r="1.95"/>
<circle cx="327.6" cy="80.4" r="1.95"/>
<circle cx="328.0" cy="93.3" r="1.95"/>
<circle cx="328.3" cy="84.7" r="1.95"/>
<circle cx="328.6" cy="88.8" r="1.95"/>
<circle cx="329.0" cy="91.2" r="1.95"/>
<circle cx="329.3" cy="85.2" r="1.95"/>
<circle cx="329.6" cy="89.6" r="1.95"/>
<circle cx="329.9" cy="92.0" r="1.95"/>
<circle cx="330.3" cy="85.7" r="1.95"/>
<circle cx="330.6" cy="94.7" r="1.95"/>
<circle cx="330.9" cy="82.8" r="1.95"/>
<circle cx="331.2" cy="81.8" r="1.95"/>
<circle cx="331.5" cy="88.1" r="1.95"/>
<circle cx="331.9" cy="90.2" r="1.95"/>
<circle cx="332.2" cy="81.2" r="1.95"/>
<circle cx="332.5" cy="88.9" r="1.95"/>
<circle cx="332.8" cy="84.3" r="1.95"/>
<circle cx="333.1" cy="88.8" r="1.95"/>
<circle cx="333.4" cy="90.0" r="1.95"/>
<circle cx="333.7" cy="87.3" r="1.95"/>
<circle cx="334.0" cy="91.8" r="1.95"/>
<circle cx="334.3" cy="85.1" r="1.95"/>
<circle cx="334.7" cy="92.6" r="1.95"/>
<circle cx="335.0" cy="84.2" r="1.95"/>
<circle cx="335.3" cy="82.6" r="1.95"/>
<circle cx="335.6" cy="83.5" r="1.95"/>
<circle cx="335.9" cy="86.5" r="1.95"/>
<circle cx="336.1" cy="87.8" r="1.95"/>
<circle cx="336.4" cy="89.4" r="1.95"/>
<circle cx="336.7" cy="97.6" r="1.95"/>
<circle cx="337.0" cy="84.4" r="1.95"/>
<circle cx="337.3" cy="82.8" r="1.95"/>
<circle cx="337.6" cy="90.8" r="1.95"/>
<circle cx="337.9" cy="92.4" r="1.95"/>
<circle cx="338.2" cy="92.1" r="1.95"/>
<circle cx="338.5" cy="89.6" r="1.95"/>
<circle cx="338.8" cy="89.9" r="1.95"/>
<circle cx="339.1" cy="92.7" r="1.95"/>
<circle cx="339.3" cy="91.0" r="1.95"/>
<circle cx="339.6" cy="88.5" r="1.95"/>
<circle cx="339.9" cy="86.3" r="1.95"/>
<circle cx="340.2" cy="91.3" r="1.95"/>
<circle cx="340.5" cy="87.3" r="1.95"/>
<circle cx="340.7" cy="87.2" r="1.95"/>
<circle cx="341.0" cy="87.8" r="1.95"/>
<circle cx="341.3" cy="92.2" r="1.95"/>
<circle cx="341.6" cy="85.9" r="1.95"/>
<circle cx="341.8" cy="94.8" r="1.95"/>
<circle cx="342.1" cy="93.3" r="1.95"/>
<circle cx="342.4" cy="86.7" r="1.95"/>
<circle cx="342.7" cy="92.5" r="1.95"/>
<circle cx="342.9" cy="91.2" r="1.95"/>
<circle cx="343.2" cy="85.1" r="1.95"/>
<circle cx="343.5" cy="91.4" r="1.95"/>
<circle cx="343.7" cy="96.6" r="1.95"/>
<circle cx="344.0" cy="92.8" r="1.95"/>
<circle cx="344.3" cy="97.1" r="1.95"/>
<circle cx="344.5" cy="100.1" r="1.95"/>
<circle cx="344.8" cy="90.2" r="1.95"/>
<circle cx="345.1" cy="97.9" r="1.95"/>
<circle cx="345.3" cy="99.5" r="1.95"/>
<circle cx="345.6" cy="101.6" r="1.95"/>
<circle cx="345.8" cy="89.3" r="1.95"/>
<circle cx="346.1" cy="101.9" r="1.95"/>
<circle cx="346.4" cy="83.9" r="1.95"/>
<circle cx="346.6" cy="94.3" r="1.95"/>
<circle cx="346.9" cy="86.7" r="1.95"/>
<circle cx="347.1" cy="90.0" r="1.95"/>
<circle cx="347.4" cy="92.4" r="1.95"/>
<circle cx="347.6" cy="91.8" r="1.95"/>
<circle cx="347.9" cy="96.0" r="1.95"/>
<circle cx="348.1" cy="98.1" r="1.95"/>
<circle cx="348.4" cy="90.9" r="1.95"/>
<circle cx="348.6" cy="93.1" r="1.95"/>
<circle cx="348.9" cy="89.5" r="1.95"/>
<circle cx="349.1" cy="94.1" r="1.95"/>
<circle cx="349.4" cy="94.9" r="1.95"/>
<circle cx="349.6" cy="93.1" r="1.95"/>
<circle cx="349.9" cy="94.6" r="1.95"/>
<circle cx="350.1" cy="94.4" r="1.95"/>
<circle cx="350.4" cy="102.3" r="1.95"/>
<circle cx="350.6" cy="93.8" r="1.95"/>
<circle cx="350.9" cy="95.4" r="1.95"/>
<circle cx="351.1" cy="95.0" r="1.95"/>
<circle cx="351.3" cy="91.0" r="1.95"/>
<circle cx="351.6" cy="90.1" r="1.95"/>
<circle cx="351.8" cy="97.8" r="1.95"/>
<circle cx="352.1" cy="89.0" r="1.95"/>
<circle cx="352.3" cy="87.0" r="1.95"/>
<circle cx="352.5" cy="98.7" r="1.95"/>
<circle cx="352.8" cy="99.9" r="1.95"/>
<circle cx="353.0" cy="92.8" r="1.95"/>
<circle cx="353.2" cy="97.7" r="1.95"/>
<circle cx="353.5" cy="89.5" r="1.95"/>
<circle cx="353.7" cy="92.4" r="1.95"/>
<circle cx="353.9" cy="105.7" r="1.95"/>
<circle cx="354.2" cy="97.4" r="1.95"/>
<circle cx="354.4" cy="106.0" r="1.95"/>
<circle cx="354.6" cy="96.4" r="1.95"/>
<circle cx="354.9" cy="105.8" r="1.95"/>
<circle cx="355.1" cy="94.2" r="1.95"/>
<circle cx="355.3" cy="106.5" r="1.95"/>
<circle cx="355.5" cy="94.1" r="1.95"/>
<circle cx="355.8" cy="96.4" r="1.95"/>
<circle cx="356.0" cy="102.2" r="1.95"/>
<circle cx="356.2" cy="93.2" r="1.95"/>
<circle cx="356.5" cy="104.6" r="1.95"/>
<circle cx="356.7" cy="104.8" r="1.95"/>
<circle cx="356.9" cy="89.1" r="1.95"/>
<circle cx="357.1" cy="97.4" r="1.95"/>
<circle cx="357.3" cy="92.5" r="1.95"/>
<circle cx="357.6" cy="94.2" r="1.95"/>
<circle cx="357.8" cy="94.1" r="1.95"/>
<circle cx="358.0" cy="107.9" r="1.95"/>
<circle cx="358.2" cy="97.2" r="1.95"/>
<circle cx="358.4" cy="91.2" r="1.95"/>
<circle cx="358.7" cy="97.2" r="1.95"/>
<circle cx="358.9" cy="100.7" r="1.95"/>
<circle cx="359.1" cy="106.5" r="1.95"/>
<circle cx="359.3" cy="105.9" r="1.95"/>
<circle cx="359.5" cy="96.5" r="1.95"/>
<circle cx="359.7" cy="95.8" r="1.95"/>
<circle cx="360.0" cy="100.4" r="1.95"/>
<circle cx="360.2" cy="100.0" r="1.95"/>
<circle cx="360.4" cy="100.9" r="1.95"/>
<circle cx="360.6" cy="92.2" r="1.95"/>
<circle cx="360.8" cy="102.2" r="1.95"/>
<circle cx="361.0" cy="93.9" r="1.95"/>
<circle cx="361.2" cy="103.9" r="1.95"/>
<circle cx="361.4" cy="99.9" r="1.95"/>
<circle cx="361.7" cy="101.8" r="1.95"/>
<circle cx="361.9" cy="98.5" r="1.95"/>
<circle cx="362.1" cy="101.7" r="1.95"/>
<circle cx="362.3" cy="98.8" r="1.95"/>
<circle cx="362.5" cy="95.6" r="1.95"/>
<circle cx="362.7" cy="101.8" r="1.95"/>
<circle cx="362.9" cy="105.2" r="1.95"/>
<circle cx="363.1" cy="103.8" r="1.95"/>
<circle cx="363.3" cy="98.7" r="1.95"/>
<circle cx="363.5" cy="103.3" r="1.95"/>
<circle cx="363.7" cy="95.3" r="1.95"/>
<circle cx="363.9" cy="111.2" r="1.95"/>
<circle cx="364.1" cy="97.0" r="1.95"/>
<circle cx="364.3" cy="108.5" r="1.95"/>
<circle cx="364.5" cy="96.1" r="1.95"/>
<circle cx="364.7" cy="103.1" r="1.95"/>
<circle cx="364.9" cy="104.8" r="1.95"/>
<circle cx="365.1" cy="100.2" r="1.95"/>
<circle cx="365.3" cy="110.6" r="1.95"/>
<circle cx="365.5" cy="94.1" r="1.95"/>
<circle cx="365.7" cy="104.3" r="1.95"/>
<circle cx="365.9" cy="118.3" r="1.95"/>
<circle cx="366.1" cy="100.3" r="1.95"/>
<circle cx="366.3" cy="109.0" r="1.95"/>
<circle cx="366.5" cy="119.3" r="1.95"/>
<circle cx="366.7" cy="93.1" r="1.95"/>
<circle cx="366.9" cy="105.1" r="1.95"/>
<circle cx="367.1" cy="120.3" r="1.95"/>
<circle cx="367.3" cy="112.9" r="1.95"/>
<circle cx="367.5" cy="118.9" r="1.95"/>
<circle cx="367.7" cy="114.0" r="1.95"/>
<circle cx="367.9" cy="104.2" r="1.95"/>
<circle cx="368.1" cy="98.2" r="1.95"/>
<circle cx="368.3" cy="120.1" r="1.95"/>
<circle cx="368.4" cy="107.8" r="1.95"/>
<circle cx="368.6" cy="110.2" r="1.95"/>
<circle cx="368.8" cy="111.3" r="1.95"/>
<circle cx="369.0" cy="111.0" r="1.95"/>
<circle cx="369.2" cy="95.5" r="1.95"/>
<circle cx="369.4" cy="103.4" r="1.95"/>
<circle cx="369.6" cy="117.4" r="1.95"/>
<circle cx="369.8" cy="107.5" r="1.95"/>
<circle cx="369.9" cy="114.6" r="1.95"/>
<circle cx="370.1" cy="106.0" r="1.95"/>
<circle cx="370.3" cy="111.3" r="1.95"/>
<circle cx="370.5" cy="113.2" r="1.95"/>
<circle cx="370.7" cy="105.3" r="1.95"/>
<circle cx="370.9" cy="97.2" r="1.95"/>
<circle cx="371.0" cy="106.7" r="1.95"/>
<circle cx="371.2" cy="97.3" r="1.95"/>
<circle cx="371.4" cy="106.9" r="1.95"/>
<circle cx="371.6" cy="106.4" r="1.95"/>
<circle cx="371.8" cy="112.3" r="1.95"/>
<circle cx="371.9" cy="107.6" r="1.95"/>
<circle cx="372.1" cy="111.0" r="1.95"/>
<circle cx="372.3" cy="102.1" r="1.95"/>
<circle cx="372.5" cy="124.2" r="1.95"/>
<circle cx="372.7" cy="103.4" r="1.95"/>
<circle cx="372.8" cy="110.9" r="1.95"/>
<circle cx="373.0" cy="123.8" r="1.95"/>
<circle cx="373.2" cy="125.7" r="1.95"/>
<circle cx="373.4" cy="111.6" r="1.95"/>
<circle cx="373.5" cy="122.9" r="1.95"/>
<circle cx="373.7" cy="105.0" r="1.95"/>
<circle cx="373.9" cy="106.5" r="1.95"/>
<circle cx="374.1" cy="106.4" r="1.95"/>
<circle cx="374.2" cy="115.4" r="1.95"/>
<circle cx="374.4" cy="111.9" r="1.95"/>
<circle cx="374.6" cy="106.9" r="1.95"/>
<circle cx="374.8" cy="113.4" r="1.95"/>
<circle cx="374.9" cy="107.5" r="1.95"/>
<circle cx="375.1" cy="105.6" r="1.95"/>
<circle cx="375.3" cy="103.1" r="1.95"/>
<circle cx="375.4" cy="106.6" r="1.95"/>
<circle cx="375.6" cy="111.0" r="1.95"/>
<circle cx="375.8" cy="100.0" r="1.95"/>
<circle cx="375.9" cy="121.8" r="1.95"/>
<circle cx="376.1" cy="122.1" r="1.95"/>
<circle cx="376.3" cy="120.7" r="1.95"/>
<circle cx="376.4" cy="100.5" r="1.95"/>
<circle cx="376.6" cy="114.6" r="1.95"/>
<circle cx="376.8" cy="102.7" r="1.95"/>
<circle cx="376.9" cy="128.4" r="1.95"/>
<circle cx="377.1" cy="121.7" r="1.95"/>
<circle cx="377.3" cy="121.1" r="1.95"/>
<circle cx="377.4" cy="113.3" r="1.95"/>
<circle cx="377.6" cy="104.5" r="1.95"/>
<circle cx="377.8" cy="117.9" r="1.95"/>
<circle cx="377.9" cy="106.6" r="1.95"/>
<circle cx="378.1" cy="113.4" r="1.95"/>
<circle cx="378.3" cy="115.3" r="1.95"/>
<circle cx="378.4" cy="105.2" r="1.95"/>
<circle cx="378.6" cy="129.5" r="1.95"/>
<circle cx="378.7" cy="114.6" r="1.95"/>
<circle cx="378.9" cy="110.9" r="1.95"/>
<circle cx="379.1" cy="104.6" r="1.95"/>
<circle cx="379.2" cy="110.1" r="1.95"/>
<circle cx="379.4" cy="102.4" r="1.95"/>
<circle cx="379.5" cy="115.0" r="1.95"/>
<circle cx="379.7" cy="110.6" r="1.95"/>
<circle cx="379.9" cy="108.2" r="1.95"/>
<circle cx="380.0" cy="119.1" r="1.95"/>
<circle cx="380.2" cy="130.6" r="1.95"/>
<circle cx="380.3" cy="114.5" r="1.95"/>
<circle cx="380.5" cy="113.9" r="1.95"/>
<circle cx="380.6" cy="117.6" r="1.95"/>
<circle cx="380.8" cy="114.7" r="1.95"/>
<circle cx="380.9" cy="114.4" r="1.95"/>
<circle cx="381.1" cy="131.0" r="1.95"/>
<circle cx="381.3" cy="107.6" r="1.95"/>
<circle cx="381.4" cy="110.7" r="1.95"/>
<circle cx="381.6" cy="120.0" r="1.95"/>
<circle cx="381.7" cy="116.8" r="1.95"/>
<circle cx="381.9" cy="119.0" r="1.95"/>
<circle cx="382.0" cy="109.3" r="1.95"/>
<circle cx="382.2" cy="117.8" r="1.95"/>
<circle cx="382.3" cy="114.1" r="1.95"/>
<circle cx="382.5" cy="115.5" r="1.95"/>
<circle cx="382.6" cy="131.6" r="1.95"/>
<circle cx="382.8" cy="123.3" r="1.95"/>
<circle cx="382.9" cy="113.6" r="1.95"/>
<circle cx="383.1" cy="127.5" r="1.95"/>
<circle cx="383.2" cy="128.9" r="1.95"/>
<circle cx="383.4" cy="119.9" r="1.95"/>
<circle cx="383.5" cy="110.3" r="1.95"/>
<circle cx="383.7" cy="115.9" r="1.95"/>
<circle cx="383.8" cy="125.7" r="1.95"/>
<circle cx="384.0" cy="111.9" r="1.95"/>
<circle cx="384.1" cy="116.7" r="1.95"/>
<circle cx="384.3" cy="115.1" r="1.95"/>
<circle cx="384.4" cy="123.6" r="1.95"/>
<circle cx="384.6" cy="112.8" r="1.95"/>
<circle cx="384.7" cy="119.0" r="1.95"/>
<circle cx="384.9" cy="107.6" r="1.95"/>
<circle cx="385.0" cy="122.5" r="1.95"/>
<circle cx="385.2" cy="108.0" r="1.95"/>
<circle cx="385.3" cy="112.8" r="1.95"/>
<circle cx="385.4" cy="117.3" r="1.95"/>
<circle cx="385.6" cy="111.5" r="1.95"/>
<circle cx="385.7" cy="121.0" r="1.95"/>
<circle cx="385.9" cy="116.7" r="1.95"/>
<circle cx="386.0" cy="123.2" r="1.95"/>
<circle cx="386.2" cy="105.1" r="1.95"/>
<circle cx="386.3" cy="117.6" r="1.95"/>
<circle cx="386.4" cy="125.7" r="1.95"/>
<circle cx="386.6" cy="124.2" r="1.95"/>
<circle cx="386.7" cy="131.8" r="1.95"/>
<circle cx="386.9" cy="109.7" r="1.95"/>
<circle cx="387.0" cy="118.8" r="1.95"/>
<circle cx="387.2" cy="126.8" r="1.95"/>
<circle cx="387.3" cy="133.5" r="1.95"/>
<circle cx="387.4" cy="117.9" r="1.95"/>
<circle cx="387.6" cy="113.3" r="1.95"/>
<circle cx="387.7" cy="119.7" r="1.95"/>
<circle cx="387.9" cy="112.2" r="1.95"/>
<circle cx="388.0" cy="114.2" r="1.95"/>
<circle cx="388.1" cy="118.5" r="1.95"/>
<circle cx="388.3" cy="112.0" r="1.95"/>
<circle cx="388.4" cy="119.7" r="1.95"/>
<circle cx="388.5" cy="134.1" r="1.95"/>
<circle cx="388.7" cy="129.1" r="1.95"/>
<circle cx="388.8" cy="123.4" r="1.95"/>
<circle cx="389.0" cy="117.4" r="1.95"/>
<circle cx="389.1" cy="114.6" r="1.95"/>
<circle cx="389.2" cy="118.7" r="1.95"/>
<circle cx="389.4" cy="117.1" r="1.95"/>
<circle cx="389.5" cy="127.5" r="1.95"/>
<circle cx="389.6" cy="120.3" r="1.95"/>
<circle cx="389.8" cy="116.4" r="1.95"/>
<circle cx="389.9" cy="120.4" r="1.95"/>
<circle cx="390.0" cy="111.7" r="1.95"/>
<circle cx="390.2" cy="134.7" r="1.95"/>
<circle cx="390.3" cy="111.3" r="1.95"/>
<circle cx="390.4" cy="117.0" r="1.95"/>
<circle cx="390.6" cy="113.9" r="1.95"/>
<circle cx="390.7" cy="124.4" r="1.95"/>
<circle cx="390.8" cy="135.0" r="1.95"/>
<circle cx="391.0" cy="132.5" r="1.95"/>
<circle cx="391.1" cy="122.1" r="1.95"/>
<circle cx="391.2" cy="118.8" r="1.95"/>
<circle cx="391.4" cy="107.1" r="1.95"/>
<circle cx="391.5" cy="112.5" r="1.95"/>
<circle cx="391.6" cy="123.1" r="1.95"/>
<circle cx="391.8" cy="135.4" r="1.95"/>
<circle cx="237.0" cy="61.3" r="1.95"/>
<circle cx="243.5" cy="63.6" r="1.95"/>
<circle cx="305.0" cy="84.6" r="1.95"/>
<circle cx="336.0" cy="79.4" r="1.95"/>
<circle cx="343.7" cy="82.0" r="1.95"/>
<circle cx="370.7" cy="89.0" r="1.95"/>
<circle cx="376.4" cy="93.8" r="1.95"/>
<circle cx="389.3" cy="89.4" r="1.95"/>
<circle cx="390.4" cy="98.1" r="1.95"/>
<circle cx="220.8" cy="49.5" r="1.95"/>
<circle cx="329.0" cy="97.3" r="1.95"/>
<circle cx="335.2" cy="101.0" r="1.95"/>
<circle cx="340.1" cy="99.5" r="1.95"/>
<circle cx="342.8" cy="100.2" r="1.95"/>
<circle cx="347.4" cy="104.6" r="1.95"/>
<circle cx="354.8" cy="107.5" r="1.95"/>
<circle cx="363.7" cy="112.7" r="1.95"/>
<circle cx="369.0" cy="120.7" r="1.95"/>
<circle cx="365.2" cy="115.8" r="1.95"/>
<circle cx="374.7" cy="121.2" r="1.95"/>
<circle cx="373.5" cy="122.7" r="1.95"/>
<circle cx="380.0" cy="127.9" r="1.95"/>
<circle cx="377.6" cy="124.7" r="1.95"/>
<circle cx="384.4" cy="127.5" r="1.95"/>
<circle cx="386.8" cy="132.8" r="1.95"/>
<circle cx="388.9" cy="131.7" r="1.95"/>
<circle cx="390.4" cy="130.8" r="1.95"/>
</g>
<path d="M48.5 12.00L54.5 13.26L60.5 14.52L66.5 15.78L72.5 17.04L78.5 18.30L84.5 19.56L90.5 20.82L96.5 22.08L102.5 23.35L108.5 24.61L114.5 25.87L120.5 27.13L126.5 28.39L132.5 29.65L138.5 30.91L144.5 32.17L150.5 33.43L156.5 34.69L162.5 35.95L168.5 37.21L174.5 38.47L180.5 39.73L186.5 40.99L192.5 42.25L198.5 43.52L204.5 44.78L210.5 46.04L216.5 47.30L222.5 48.56L228.5 49.82L234.5 51.08L240.5 52.34L246.5 53.60L252.5 54.86L258.5 56.12L264.5 57.38L270.5 58.64L276.5 59.90L282.5 61.16L288.5 62.43L294.5 63.69L300.5 64.97L306.5 66.25L312.5 67.56L318.5 68.88L324.5 70.22L330.5 71.58L336.5 72.98L342.5 74.40L348.5 75.87L354.5 77.37L360.5 78.91L362.4 79.41" stroke="#ff0000" stroke-width="1.6" fill="none"/>
<path d="M48.5 18.10L51.0 18.48L53.5 18.86L56.0 19.24L58.5 19.62L61.0 20.00L63.5 20.38L66.0 20.76L68.5 21.14L71.0 21.52L73.5 21.90L76.0 22.28L78.5 22.66L81.0 23.04L83.5 23.42L86.0 23.80L88.5 24.18L91.0 24.56L93.5 24.94L96.0 25.32L98.5 25.71L101.0 26.09L103.5 26.47L106.0 26.85L108.5 27.23L111.0 27.61L113.5 27.99L116.0 28.37L118.5 28.75L121.0 29.13L123.5 29.51L126.0 29.89L128.5 30.27L131.0 30.65L133.5 31.03L136.0 31.41L138.5 31.79L141.0 32.17" stroke="#ff0000" stroke-width="1.55" fill="none" stroke-dasharray="1.6 2.45 5.8 2.45" stroke-dashoffset="0"/>
<path d="M48.5 143.12L52.5 144.08L56.5 145.05L60.5 146.02L64.5 146.99L68.5 147.97L72.5 148.95L76.5 149.94L80.5 150.93L84.5 151.92L88.5 152.91L92.5 153.91L96.5 154.92L100.5 155.92L104.5 156.93L108.5 157.95L112.5 158.96L116.5 159.98L120.5 161.01L124.5 162.04L128.5 163.07L132.5 164.10L136.5 165.14L140.5 166.19L144.5 167.23L148.5 168.28L152.5 169.33L156.5 170.39L160.5 171.45L164.5 172.52L168.5 173.58L172.5 174.66L176.5 175.73L180.5 176.81L184.5 177.89L188.5 178.98L192.5 180.07L196.5 181.16L200.5 182.26L204.5 183.36L208.5 184.46L212.5 185.57L216.5 186.68L220.5 187.80L224.5 188.92L228.5 190.04L232.5 191.16L236.5 192.29L240.5 193.43L244.5 194.56L248.5 195.70L252.5 196.85L256.5 197.99L260.5 199.15L264.5 200.30L268.5 201.46L272.5 202.62L276.5 203.79L280.5 204.95L284.5 206.13L288.5 207.30L292.5 208.48L296.5 209.67L300.5 210.85L304.5 212.05L308.5 213.24L312.5 214.44L316.5 215.64L320.5 216.85L324.5 218.05L328.5 219.27L332.5 220.48L336.5 221.70L340.5 222.93L344.5 224.15L348.5 225.38L352.5 226.62L356.5 227.86L360.5 229.10L364.5 230.34L368.5 231.59L372.5 232.84L376.5 234.10L380.5 235.36L384.5 236.62L388.5 237.89" stroke="#0808ff" stroke-width="1.5" fill="none" stroke-dasharray="7 3.3" stroke-dashoffset="0"/>
<path d="M82.97 241.3v-3.6M82.97 0.0v4.1M103.13 241.3v-3.6M103.13 0.0v4.1M117.44 241.3v-3.6M117.44 0.0v4.1M128.53 241.3v-3.6M128.53 0.0v4.1M137.60 241.3v-3.6M137.60 0.0v4.1M145.26 241.3v-3.6M145.26 0.0v4.1M151.90 241.3v-3.6M151.90 0.0v4.1M157.76 241.3v-3.6M157.76 0.0v4.1M163.00 241.3v-7M163.00 0.0v7.5M197.47 241.3v-3.6M197.47 0.0v4.1M217.63 241.3v-3.6M217.63 0.0v4.1M231.94 241.3v-3.6M231.94 0.0v4.1M243.03 241.3v-3.6M243.03 0.0v4.1M252.10 241.3v-3.6M252.10 0.0v4.1M259.76 241.3v-3.6M259.76 0.0v4.1M266.40 241.3v-3.6M266.40 0.0v4.1M272.26 241.3v-3.6M272.26 0.0v4.1M277.50 241.3v-7M277.50 0.0v7.5M311.97 241.3v-3.6M311.97 0.0v4.1M332.13 241.3v-3.6M332.13 0.0v4.1M346.44 241.3v-3.6M346.44 0.0v4.1M357.53 241.3v-3.6M357.53 0.0v4.1M366.60 241.3v-3.6M366.60 0.0v4.1M374.26 241.3v-3.6M374.26 0.0v4.1M380.90 241.3v-3.6M380.90 0.0v4.1M386.76 241.3v-3.6M386.76 0.0v4.1M392.0 241.3v0M48.5 235.58h3.6M392.0 235.58h-3.6M48.5 230.91h3.6M392.0 230.91h-3.6M48.5 227.09h3.6M392.0 227.09h-3.6M48.5 223.87h3.6M392.0 223.87h-3.6M48.5 221.07h3.6M392.0 221.07h-3.6M48.5 218.61h3.6M392.0 218.61h-3.6M48.5 216.40h7M392.0 216.40h-7M48.5 201.89h3.6M392.0 201.89h-3.6M48.5 193.40h3.6M392.0 193.40h-3.6M48.5 187.38h3.6M392.0 187.38h-3.6M48.5 182.71h3.6M392.0 182.71h-3.6M48.5 178.89h3.6M392.0 178.89h-3.6M48.5 175.67h3.6M392.0 175.67h-3.6M48.5 172.87h3.6M392.0 172.87h-3.6M48.5 170.41h3.6M392.0 170.41h-3.6M48.5 168.20h7M392.0 168.20h-7M48.5 153.69h3.6M392.0 153.69h-3.6M48.5 145.20h3.6M392.0 145.20h-3.6M48.5 139.18h3.6M392.0 139.18h-3.6M48.5 134.51h3.6M392.0 134.51h-3.6M48.5 130.69h3.6M392.0 130.69h-3.6M48.5 127.47h3.6M392.0 127.47h-3.6M48.5 124.67h3.6M392.0 124.67h-3.6M48.5 122.21h3.6M392.0 122.21h-3.6M48.5 120.00h7M392.0 120.00h-7M48.5 105.49h3.6M392.0 105.49h-3.6M48.5 97.00h3.6M392.0 97.00h-3.6M48.5 90.98h3.6M392.0 90.98h-3.6M48.5 86.31h3.6M392.0 86.31h-3.6M48.5 82.49h3.6M392.0 82.49h-3.6M48.5 79.27h3.6M392.0 79.27h-3.6M48.5 76.47h3.6M392.0 76.47h-3.6M48.5 74.01h3.6M392.0 74.01h-3.6M48.5 71.80h7M392.0 71.80h-7M48.5 57.29h3.6M392.0 57.29h-3.6M48.5 48.80h3.6M392.0 48.80h-3.6M48.5 42.78h3.6M392.0 42.78h-3.6M48.5 38.11h3.6M392.0 38.11h-3.6M48.5 34.29h3.6M392.0 34.29h-3.6M48.5 31.07h3.6M392.0 31.07h-3.6M48.5 28.27h3.6M392.0 28.27h-3.6M48.5 25.81h3.6M392.0 25.81h-3.6M48.5 23.60h7M392.0 23.60h-7M48.5 9.09h3.6M392.0 9.09h-3.6M48.5 0.60h3.6M392.0 0.60h-3.6" stroke="#111" stroke-width="0.7" fill="none"/>
<path d="M48.5 0.0V241.3H392.0V0.0Z" stroke="#1a1a1a" stroke-width="1.0" fill="none"/>
<g font-family="'Liberation Serif', serif" fill="#000">
<text x="48.5" y="253.3" font-size="11.6" text-anchor="middle">0.01</text>
<text x="163.0" y="253.3" font-size="11.6" text-anchor="middle">0.1</text>
<text x="278.3" y="253.3" font-size="11.6" text-anchor="middle">1</text>
<text x="392.9" y="253.3" font-size="11.6" text-anchor="middle">10</text>
<text x="45.4" y="222.9" font-size="11.6" text-anchor="end">10<tspan font-size="7.6" dy="-6.6">-10</tspan></text>
<text x="45.4" y="174.7" font-size="11.6" text-anchor="end">10<tspan font-size="7.6" dy="-6.6">-9</tspan></text>
<text x="45.4" y="126.5" font-size="11.6" text-anchor="end">10<tspan font-size="7.6" dy="-6.6">-8</tspan></text>
<text x="45.4" y="78.3" font-size="11.6" text-anchor="end">10<tspan font-size="7.6" dy="-6.6">-7</tspan></text>
<text x="45.4" y="30.1" font-size="11.6" text-anchor="end">10<tspan font-size="7.6" dy="-6.6">-6</tspan></text>
<text x="220.9" y="265.7" font-size="14.15" text-anchor="middle">Electron energy (eV)</text>
<g transform="translate(17.0 200.7) rotate(-90)" font-size="14.0">
<text x="0" y="0">Recombination rate (cm</text>
<text x="136.4" y="-9.6" font-size="9">3</text>
<text x="141.0" y="0">s</text>
<text x="149.0" y="-9.6" font-size="9">-1</text>
<text x="155.5" y="0">)</text>
</g>
</g>
</svg>
</body></html>
